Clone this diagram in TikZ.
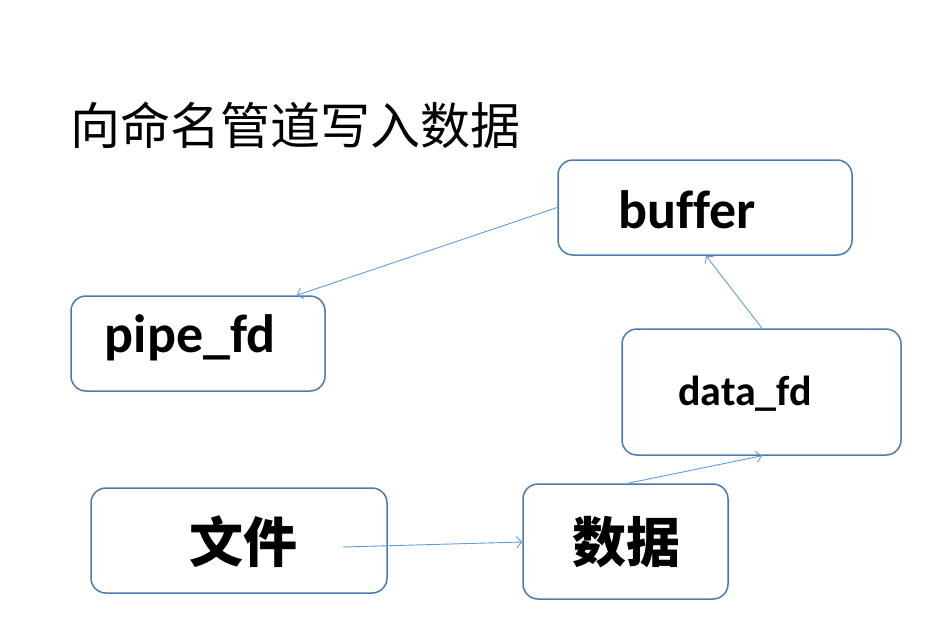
\documentclass[tikz,border=0pt]{standalone}
\usepackage{fontspec}
\setmainfont[Ligatures={NoCommon}]{Carlito}
\newfontfamily\cjk{Noto Sans CJK SC}
\usetikzlibrary{arrows.meta,calc}
\definecolor{boxblue}{RGB}{74,122,178}
\definecolor{arrblue}{RGB}{98,155,215}
\tikzset{
  pbox/.style={draw=boxblue, line width=1.5pt, rounded corners=15pt, inner sep=0pt},
  lat/.style={font=\bfseries\fontsize{54}{60}\selectfont, inner sep=0pt},
  latsmall/.style={font=\bfseries\fontsize{42}{48}\selectfont, inner sep=0pt},
  cjkbig/.style={font=\cjk\bfseries\fontsize{54}{60}\selectfont, inner sep=0pt},
  conn/.style={draw=arrblue, line width=0.9pt, -{Straight Barb[length=5pt,width=11pt]}},
}
\begin{document}
\begin{tikzpicture}[x=1pt,y=-1pt]
\useasboundingbox (0,0) rectangle (937,638);
\node[pbox, minimum width=294pt, minimum height=95pt] (buffer) at (705,207.5) {};
\node[pbox, minimum width=254pt, minimum height=95pt] (pipe) at (198,343.5) {};
\node[pbox, minimum width=279pt, minimum height=126pt] (datafd) at (761.5,392) {};
\node[pbox, minimum width=296pt, minimum height=105pt] (file) at (239,540.5) {};
\node[pbox, minimum width=205pt, minimum height=115pt] (data) at (625.5,541.5) {};
\node[inner sep=0pt, anchor=west, font=\cjk\fontsize{50}{56}\selectfont] (title) at (70,125) {向命名管道写入数据};
\node[lat] (tbuffer) at (687,210) {buffer};
\node[lat] (tpipe) at (190,338) {pipe\_fd};
\node[latsmall] (tdatafd) at (745,394) {data\_fd};
\node[cjkbig] (tfile) at (243,542) {文件};
\node[cjkbig] (tdata) at (626,542) {数据};
\coordinate (fstart) at (343,547);
\draw[conn] (buffer.west) -- ($(pipe.north east)+(-29,0)$);
\draw[conn] ($(datafd.north)+(0.5,0)$) -- ($(buffer.south)+(1,0)$);
\draw[conn] ($(data.north)+(2.5,0)$) -- ($(datafd.south)+(0.5,0)$);
\draw[conn] (fstart) -- ($(data.west)+(0,0.5)$);
\end{tikzpicture}
\end{document}
